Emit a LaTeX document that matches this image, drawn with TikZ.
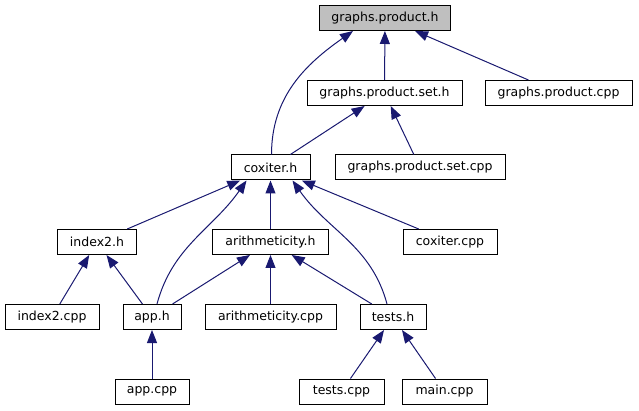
\documentclass[tikz,border=0pt]{standalone}
\usepackage{fontspec}
\setmainfont{DejaVu Sans}
\usepackage{xcolor}
\usetikzlibrary{arrows.meta}
\definecolor{edgeblue}{HTML}{191970}
\definecolor{rootgray}{HTML}{BFBFBF}

\begin{document}
\begin{tikzpicture}[
    x=1pt, y=-1pt,
    filebox/.style={rectangle, draw=black, line width=1pt, fill=white,
                 minimum height=25pt, inner sep=0pt,
                 font=\fontsize{12.5}{15}\selectfont},
    arr/.style={-{Triangle[length=13pt, width=10pt]}, draw=edgeblue, line width=1pt},
]
    \useasboundingbox (0,0) rectangle (639,411);
    \node[filebox, fill=rootgray, minimum width=131pt] (gph) at (385,18) {graphs.product.h};
    \node[filebox, minimum width=155pt] (gpsh) at (384.5,93) {graphs.product.set.h};
    \node[filebox, minimum width=147pt] (gpcpp) at (558.5,93) {graphs.product.cpp};
    \node[filebox, minimum width=79pt] (cox) at (270.5,167.5) {coxiter.h};
    \node[filebox, minimum width=170pt] (gpscpp) at (420,167.5) {graphs.product.set.cpp};
    \node[filebox, minimum width=79pt] (idx) at (97,242) {index2.h};
    \node[filebox, minimum width=116pt] (arith) at (270.5,242) {arithmeticity.h};
    \node[filebox, minimum width=94pt] (coxcpp) at (450,242) {coxiter.cpp};
    \node[filebox, minimum width=94pt] (idxcpp) at (52,317) {index2.cpp};
    \node[filebox, minimum width=58pt] (app) at (152,317) {app.h};
    \node[filebox, minimum width=131pt] (arithcpp) at (270.5,317) {arithmeticity.cpp};
    \node[filebox, minimum width=66pt] (tests) at (393,317) {tests.h};
    \node[filebox, minimum width=74pt] (appcpp) at (152,391.5) {app.cpp};
    \node[filebox, minimum width=85pt] (testscpp) at (341.5,391.5) {tests.cpp};
    \node[filebox, minimum width=85pt] (maincpp) at (444.5,391.5) {main.cpp};

    \draw[arr] (gpsh) -- (gph);
    \draw[arr] (gpcpp) -- (gph);
    \draw[arr] ([xshift=1pt]cox.north) to[out=90, in=-145] ([xshift=-32pt]gph.south);
    \draw[arr] (cox) -- (gpsh);
    \draw[arr] (gpscpp) -- (gpsh);
    \draw[arr] (idx) -- (cox);
    \draw[arr] (arith) -- (cox);
    \draw[arr] (coxcpp) -- (cox);
    \draw[arr] ([xshift=5pt]app.north) to[out=75, in=-125] ([xshift=-24pt]cox.south);
    \draw[arr] ([xshift=-6pt]tests.north) to[out=105, in=-55] ([xshift=22pt]cox.south);
    \draw[arr] (idxcpp) -- (idx);
    \draw[arr] (app) -- (idx);
    \draw[arr] (app) -- (arith);
    \draw[arr] (arithcpp) -- (arith);
    \draw[arr] (tests) -- (arith);
    \draw[arr] (appcpp) -- (app);
    \draw[arr] (testscpp) -- (tests);
    \draw[arr] (maincpp) -- (tests);
\end{tikzpicture}
\end{document}
